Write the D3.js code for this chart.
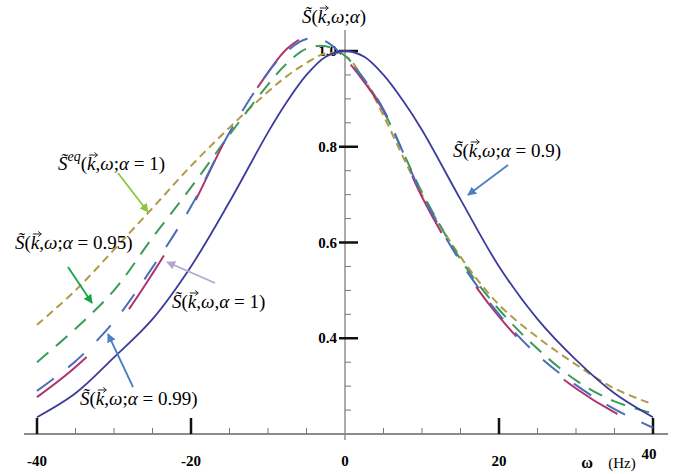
<!DOCTYPE html>
<html>
<head>
<meta charset="utf-8">
<script src="https://cdn.jsdelivr.net/npm/d3@7"></script>
<style>
  body { margin: 0; background: #fff; }
  svg { display: block; }
  .tick-label { font-family: "Liberation Serif", "DejaVu Serif", serif; font-weight: bold; font-size: 15px; }
  .math { font-family: "Liberation Serif", "DejaVu Serif", serif; font-size: 19px; }
</style>
</head>
<body>
<div id="chart"></div>
<script>
// frequency grid (Hz)
const omega = [-40, -35, -30, -25, -20, -15, -10, -7.5, -5, -2.5, 0, 2.5, 5, 7.5, 10, 15, 20, 25, 30, 35, 40];

const sAlpha09  = [0.235, 0.285, 0.36, 0.44, 0.55, 0.685, 0.83, 0.895, 0.95, 0.988, 1.0, 0.988, 0.95, 0.897, 0.835, 0.69, 0.55, 0.44, 0.355, 0.285, 0.235];
const sAlpha1   = [0.277, 0.34, 0.42, 0.535, 0.67, 0.83, 0.955, 1.005, 1.03, 1.025, 0.985, 0.935, 0.875, 0.785, 0.695, 0.555, 0.445, 0.36, 0.295, 0.245, 0.207];
const sAlpha099 = [0.29, 0.352, 0.435, 0.548, 0.675, 0.83, 0.955, 1.0, 1.025, 1.02, 0.985, 0.94, 0.878, 0.79, 0.7, 0.56, 0.45, 0.365, 0.302, 0.252, 0.213];
const sAlpha095 = [0.35, 0.42, 0.5, 0.61, 0.715, 0.825, 0.93, 0.975, 1.005, 1.01, 0.99, 0.94, 0.875, 0.79, 0.705, 0.565, 0.46, 0.378, 0.312, 0.268, 0.243];
const sEq       = [0.428, 0.5, 0.585, 0.672, 0.76, 0.84, 0.915, 0.948, 0.975, 0.995, 0.99, 0.94, 0.865, 0.78, 0.7, 0.57, 0.47, 0.402, 0.345, 0.295, 0.262];

const xTickLabels = [-40, -20, 0, 20, 40];
const yTickLabels = [0.4, 0.6, 0.8, 1.0];

const width = 679, height = 474;

const svg = d3.select("#chart")
    .append("svg")
    .attr("width", width)
    .attr("height", height);

const x = d3.scaleLinear().domain([-40, 40]).range([37, 653]);
const y = d3.scaleLinear().domain([0.2, 1.0]).range([434, 51]);

// axes
svg.append("line")
    .attr("x1", 24).attr("x2", 668)
    .attr("y1", y(0.2)).attr("y2", y(0.2))
    .attr("stroke", "#666").attr("stroke-width", 1.4);

svg.append("line")
    .attr("x1", x(0)).attr("x2", x(0))
    .attr("y1", 30).attr("y2", y(0.2) + 6)
    .attr("stroke", "#888").attr("stroke-width", 1.4);

// x minor ticks
const xMinor = d3.range(-35, 40, 5).filter(d => d % 20 !== 0);
svg.append("g").selectAll("line")
    .data(xMinor)
    .join("line")
    .attr("x1", d => x(d)).attr("x2", d => x(d))
    .attr("y1", y(0.2)).attr("y2", y(0.2) - 6)
    .attr("stroke", "#777").attr("stroke-width", 1);

// x major ticks
svg.append("g").selectAll("line")
    .data(xTickLabels.filter(d => d !== 0))
    .join("line")
    .attr("x1", d => x(d)).attr("x2", d => x(d))
    .attr("y1", y(0.2)).attr("y2", y(0.2) - 16)
    .attr("stroke", "#111").attr("stroke-width", 2.5);

svg.append("g").selectAll("text")
    .data(xTickLabels)
    .join("text")
    .attr("class", "tick-label")
    .attr("x", d => d === 40 ? x(d) - 4 : x(d))
    .attr("y", d => d === 40 ? 459 : 466)
    .attr("text-anchor", "middle")
    .text(d => d);

// axis name
svg.append("text")
    .attr("x", 587).attr("y", 468)
    .attr("text-anchor", "middle")
    .attr("class", "tick-label")
    .style("font-size", "16px")
    .text("ω");
svg.append("text")
    .attr("x", 622).attr("y", 468)
    .attr("text-anchor", "middle")
    .style("font-family", "Liberation Serif, serif")
    .style("font-size", "15px")
    .text("(Hz)");

// y minor ticks
const yMinor = d3.range(0.25, 1.0, 0.05).filter(d => Math.abs(d * 5 - Math.round(d * 5)) > 0.01);
svg.append("g").selectAll("line")
    .data(yMinor)
    .join("line")
    .attr("x1", x(0)).attr("x2", x(0) + 6)
    .attr("y1", d => y(d)).attr("y2", d => y(d))
    .attr("stroke", "#777").attr("stroke-width", 1);

// y major ticks
svg.append("g").selectAll("line")
    .data(yTickLabels)
    .join("line")
    .attr("x1", x(0) - 6).attr("x2", x(0) + 13)
    .attr("y1", d => y(d)).attr("y2", d => y(d))
    .attr("stroke", "#111").attr("stroke-width", 2.5);

svg.append("g").selectAll("text")
    .data(yTickLabels)
    .join("text")
    .attr("class", "tick-label")
    .attr("x", x(0) - 8)
    .attr("y", d => y(d) + 5)
    .attr("text-anchor", "end")
    .text(d => d.toFixed(1));

// curves
const line = d3.line()
    .x((d, i) => x(omega[i]))
    .y(d => y(d))
    .curve(d3.curveCatmullRom.alpha(0.5));

const series = [
    { values: sEq,       color: "#b09a45", dash: "8,5",   width: 2 },
    { values: sAlpha095, color: "#3d9a5c", dash: "15,10", width: 2 },
    { values: sAlpha1,   color: "#b0336e", dash: "64,64", width: 2 },
    { values: sAlpha099, color: "#4a6db8", dash: "21,18", width: 2 },
    { values: sAlpha09,  color: "#3c3c9c", dash: null,    width: 1.8 }
];

svg.append("g").selectAll("path")
    .data(series)
    .join("path")
    .attr("d", d => line(d.values))
    .attr("fill", "none")
    .attr("stroke", d => d.color)
    .attr("stroke-width", d => d.width)
    .attr("stroke-dasharray", d => d.dash);

// arrows
const arrows = [
    { from: [118, 173], to: [148, 212], color: "#8cc63f" },
    { from: [68, 267],  to: [92, 303],  color: "#13a54a" },
    { from: [215, 283], to: [167, 262], color: "#b3a6d4" },
    { from: [133, 387], to: [108, 334], color: "#4a80c4" },
    { from: [508, 165], to: [468, 195], color: "#4a80c4" }
];

const defs = svg.append("defs");
arrows.forEach((a, i) => {
    defs.append("marker")
        .attr("id", "arr" + i)
        .attr("viewBox", "0 0 10 10")
        .attr("refX", 9).attr("refY", 5)
        .attr("markerWidth", 9).attr("markerHeight", 9)
        .attr("markerUnits", "userSpaceOnUse")
        .attr("orient", "auto")
        .append("path")
        .attr("d", "M0,0 L10,5 L0,10 z")
        .attr("fill", a.color);
});

svg.append("g").selectAll("line")
    .data(arrows)
    .join("line")
    .attr("x1", d => d.from[0]).attr("y1", d => d.from[1])
    .attr("x2", d => d.to[0]).attr("y2", d => d.to[1])
    .attr("stroke", d => d.color)
    .attr("stroke-width", 1.8)
    .attr("marker-end", (d, i) => `url(#arr${i})`);

// labels
const S = "S\u0303";

function mathLabel(xp, yp, sup, rest) {
    const t = svg.append("text").attr("class", "math").attr("x", xp).attr("y", yp);
    t.append("tspan").style("font-style", "italic").text(S);
    if (sup) {
        t.append("tspan").attr("dy", -9).style("font-style", "italic").style("font-size", "14px").text(sup);
        t.append("tspan").attr("dy", 9).text("(");
    } else {
        t.append("tspan").text("(");
    }
    t.append("tspan").style("font-style", "italic").text("k");
    t.append("tspan").text(",");
    t.append("tspan").style("font-style", "italic").text("ω");
    t.append("tspan").text(rest.sep);
    t.append("tspan").style("font-style", "italic").text("α");
    t.append("tspan").text(rest.tail);

    // vector arrow drawn over the k
    const idx = t.text().indexOf("k");
    const box = t.node().getExtentOfChar(idx);
    const ax0 = box.x + 2, ax1 = box.x + box.width + 2, ay = yp - 15;
    svg.append("path")
        .attr("d", `M${ax0},${ay}H${ax1}M${ax1 - 3},${ay - 2.5}L${ax1},${ay}L${ax1 - 3},${ay + 2.5}`)
        .attr("fill", "none")
        .attr("stroke", "#222")
        .attr("stroke-width", 1);
}

mathLabel(302, 23, null, { sep: ";", tail: ")" });
mathLabel(58, 170, "eq", { sep: ";", tail: " = 1)" });
mathLabel(15, 249, null, { sep: ";", tail: " = 0.95)" });
mathLabel(172, 308, null, { sep: ",", tail: " = 1)" });
mathLabel(80, 405, null, { sep: ";", tail: " = 0.99)" });
mathLabel(453, 157, null, { sep: ";", tail: " = 0.9)" });
</script>
</body>
</html>
